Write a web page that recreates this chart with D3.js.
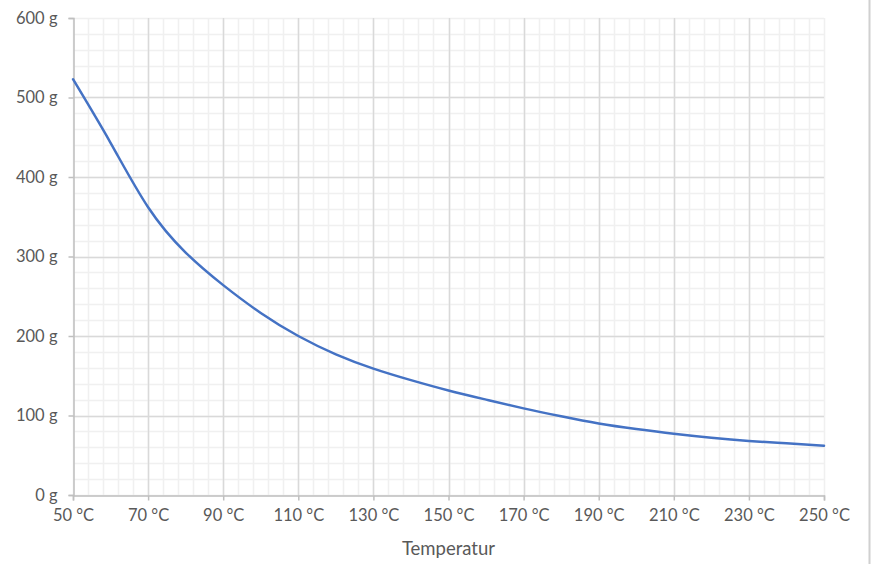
<!DOCTYPE html>
<html>
<head>
<meta charset="utf-8">
<script src="https://cdn.jsdelivr.net/npm/d3@7"></script>
<style>
  html, body { margin: 0; padding: 0; background: #fff; }
  svg { display: block; }
  text { font-family: Lato, "Open Sans", sans-serif; fill: #595959; }
</style>
</head>
<body>
<svg id="chart" width="871" height="564"></svg>
<script>
// Data
const temperatures = [50, 60, 70, 80, 90, 100, 110, 120, 130, 140, 150, 160, 170, 180, 190, 200, 210, 220, 230, 240, 250];
const grams = [523, 443, 362, 305, 264, 229, 200, 177, 159, 144.5, 131.5, 120, 109, 99, 90, 83, 77, 72, 68, 65, 62];
const xTicks = [50, 70, 90, 110, 130, 150, 170, 190, 210, 230, 250];
const yTicks = [0, 100, 200, 300, 400, 500, 600];
const xTitle = "Temperatur";

const svg = d3.select("#chart");
const pLeft = 73, pRight = 824, pTop = 18, pBottom = 495;

const x = d3.scaleLinear().domain([50, 250]).range([pLeft, pRight]);
const y = d3.scaleLinear().domain([0, 600]).range([pBottom, pTop]);

// right frame line
svg.append("line").attr("x1", 869.5).attr("x2", 869.5).attr("y1", 0).attr("y2", 564)
  .attr("stroke", "#d0d0d0").attr("stroke-width", 2);

const g = svg.append("g");

// minor grid
const xMinor = d3.range(50, 251, 4);
const yMinor = d3.range(0, 601, 20);
g.selectAll(".xminor").data(xMinor).join("line")
  .attr("x1", d => Math.round(x(d)) + 0.5).attr("x2", d => Math.round(x(d)) + 0.5)
  .attr("y1", pTop).attr("y2", pBottom)
  .attr("stroke", "#f0f0f0").attr("stroke-width", 1.5);
g.selectAll(".yminor").data(yMinor).join("line")
  .attr("y1", d => Math.round(y(d)) + 0.5).attr("y2", d => Math.round(y(d)) + 0.5)
  .attr("x1", pLeft).attr("x2", pRight)
  .attr("stroke", "#f0f0f0").attr("stroke-width", 1.5);

// major grid
g.selectAll(".xmajor").data(xTicks.filter(d => d !== 50 && d !== 250)).join("line")
  .attr("x1", d => Math.round(x(d)) + 0.5).attr("x2", d => Math.round(x(d)) + 0.5)
  .attr("y1", pTop).attr("y2", pBottom)
  .attr("stroke", "#d9d9d9").attr("stroke-width", 1.5);
g.selectAll(".ymajor").data(yTicks.filter(d => d !== 0 && d !== 600)).join("line")
  .attr("y1", d => Math.round(y(d)) + 0.5).attr("y2", d => Math.round(y(d)) + 0.5)
  .attr("x1", pLeft).attr("x2", pRight)
  .attr("stroke", "#d9d9d9").attr("stroke-width", 1.5);

// axes
const xAxis = d3.axisBottom(x).tickValues(xTicks).tickSize(5).tickPadding(9)
  .tickFormat(d => d + " °C");
const yAxis = d3.axisLeft(y).tickValues(yTicks).tickSize(5).tickPadding(11)
  .tickFormat(d => d + " g");

const gx = svg.append("g").attr("transform", `translate(0,${pBottom + 0.5})`).call(xAxis);
const gy = svg.append("g").attr("transform", `translate(${pLeft + 0.5},0)`).call(yAxis);
[gx, gy].forEach(a => {
  a.select(".domain").attr("stroke", "#bfbfbf").attr("stroke-width", 1.5);
  a.selectAll(".tick line").attr("stroke", "#bfbfbf").attr("stroke-width", 1.5);
  a.selectAll("text").style("font-family", "Lato, sans-serif").style("font-size", "16.5px").attr("fill", "#595959");
});
gy.selectAll(".tick text").attr("dy", "0.32em");

// axis title
svg.append("text").attr("x", (pLeft + pRight) / 2).attr("y", 555)
  .attr("text-anchor", "middle").style("font-size", "18.5px").text(xTitle);

// line
const line = d3.line().x((d, i) => x(temperatures[i])).y(d => y(d)).curve(d3.curveNatural);
svg.append("path").datum(grams).attr("d", line)
  .attr("fill", "none").attr("stroke", "#4472C4").attr("stroke-width", 2.5)
  .attr("stroke-linecap", "round");
</script>
</body>
</html>
